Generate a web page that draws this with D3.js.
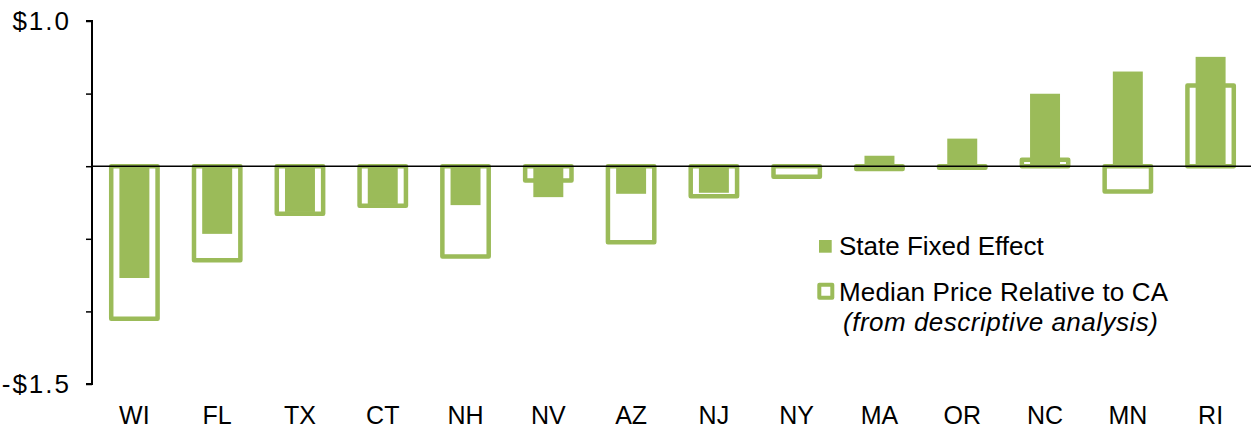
<!DOCTYPE html>
<html>
<head>
<meta charset="utf-8">
<script src="https://cdn.jsdelivr.net/npm/d3@7/dist/d3.min.js"></script>
<style>
  html, body { margin: 0; padding: 0; background: #fff; }
  svg { display: block; }
  text { font-family: "Liberation Sans", Arial, sans-serif; fill: #000; }
</style>
</head>
<body>
<svg id="chart" width="1251" height="433"></svg>
<script>
const categories = ["WI","FL","TX","CT","NH","NV","AZ","NJ","NY","MA","OR","NC","MN","RI"];
const fixedEffect = [-0.77, -0.466, -0.315, -0.26, -0.268, -0.213, -0.19, -0.183, 0, 0.072, 0.19, 0.499, 0.652, 0.753];
const medianPrice = [-1.05, -0.647, -0.328, -0.273, -0.622, -0.098, -0.523, -0.207, -0.073, -0.019, -0.01, 0.044, -0.174, 0.556];
const yTickValues = [-1.5, -1.0, -0.5, 0, 0.5, 1.0];
const yTickLabels = {"1": "$1.0", "-1.5": "-$1.5"};
const legendLabels = ["State Fixed Effect", "Median Price Relative to CA", "(from descriptive analysis)"];

const green = "#9BBB59";
const svg = d3.select("#chart");

const x = d3.scaleBand().domain(categories).range([93, 1252]).padding(0);
const y = d3.scaleLinear().domain([-1.5, 1.0]).range([384, 21]);
const bw = x.bandwidth();
const outlineW = bw * 0.56;
const fillW = bw * 0.362;

const rows = categories.map((c, i) => ({c, f: fixedEffect[i], m: medianPrice[i]}));

// outline bars (median price)
svg.append("g").selectAll("rect").data(rows).join("rect")
  .attr("x", d => x(d.c) + (bw - outlineW) / 2)
  .attr("width", outlineW)
  .attr("y", d => y(Math.max(0, d.m)))
  .attr("height", d => Math.abs(y(d.m) - y(0)))
  .attr("fill", "none")
  .attr("stroke", green)
  .attr("stroke-width", 4.5)
  .attr("stroke-linejoin", "round");

// filled bars (state fixed effect)
svg.append("g").selectAll("rect").data(rows.filter(d => d.f !== 0)).join("rect")
  .attr("x", d => x(d.c) + (bw - fillW) / 2)
  .attr("width", fillW)
  .attr("y", d => y(Math.max(0, d.f)))
  .attr("height", d => Math.abs(y(d.f) - y(0)))
  .attr("fill", green);

// zero line
svg.append("line")
  .attr("x1", 92).attr("x2", 1251)
  .attr("y1", y(0)).attr("y2", y(0))
  .attr("stroke", "#000").attr("stroke-width", 1.5);

// y axis
const yAxis = d3.axisLeft(y)
  .tickValues(yTickValues)
  .tickSize(6)
  .tickPadding(15)
  .tickFormat(d => yTickLabels[String(d)] || "");
const gy = svg.append("g").attr("transform", "translate(92,0)").call(yAxis);
gy.select(".domain").attr("stroke", "#000").attr("stroke-width", 2)
  .attr("d", `M-6,${y(1.0)}H0V${y(-1.5)}H-6`);
gy.selectAll(".tick line").attr("stroke", "#000").attr("stroke-width", 1.5);
gy.selectAll(".tick text").attr("font-size", 26).attr("letter-spacing", 2)
  .attr("font-family", "Liberation Sans, Arial, sans-serif").attr("fill", "#000");

// x labels
svg.append("g").selectAll("text").data(categories).join("text")
  .attr("x", d => x(d) + bw / 2)
  .attr("y", 424)
  .attr("text-anchor", "middle")
  .attr("font-size", 25)
  .text(d => d);

// legend
const lg = svg.append("g");
lg.append("rect").attr("x", 819).attr("y", 240).attr("width", 12.7).attr("height", 12.7).attr("fill", green);
lg.append("text").attr("x", 839).attr("y", 255).attr("font-size", 26).text(legendLabels[0]);
lg.append("rect").attr("x", 819.3).attr("y", 284.8).attr("width", 13).attr("height", 13)
  .attr("fill", "none").attr("stroke", green).attr("stroke-width", 4).attr("stroke-linejoin", "round");
lg.append("text").attr("x", 839).attr("y", 301).attr("font-size", 26).attr("letter-spacing", 0.15).text(legendLabels[1]);
lg.append("text").attr("x", 843).attr("y", 331).attr("font-size", 26).attr("font-style", "italic")
  .attr("letter-spacing", 0.5).text(legendLabels[2]);
</script>
</body>
</html>
